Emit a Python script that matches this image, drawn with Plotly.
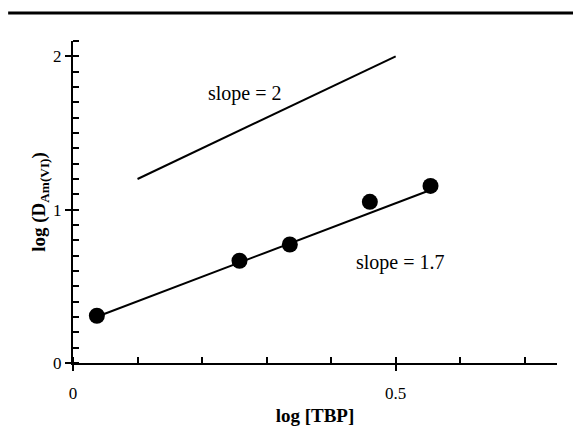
import plotly.graph_objects as go

# Measured distribution data
log_tbp = [0.037, 0.258, 0.336, 0.460, 0.554]
log_d_am = [0.308, 0.667, 0.773, 1.051, 1.155]

# Fitted line through the data (slope ~1.7)
fit_x = [0.036, 0.555]
fit_y = [0.300, 1.130]

# Reference line of slope 2
ref_x = [0.1, 0.5]
ref_y = [1.2, 2.0]

x_range = [0, 0.75]
y_range = [0, 2.1]
x_major = [0, 0.5]
y_major = [0, 1, 2]

FONT = "Times New Roman, Liberation Serif, DejaVu Serif, serif"

fig = go.Figure()

fig.add_trace(go.Scatter(x=ref_x, y=ref_y, mode="lines",
                         line=dict(color="black", width=2), hoverinfo="skip"))
fig.add_trace(go.Scatter(x=fit_x, y=fit_y, mode="lines",
                         line=dict(color="black", width=2), hoverinfo="skip"))
fig.add_trace(go.Scatter(x=log_tbp, y=log_d_am, mode="markers",
                         marker=dict(color="black", size=16, symbol="circle")))
# invisible trace so the overlay axes (inner halves of major ticks) render
fig.add_trace(go.Scatter(x=[0.3], y=[1.0], xaxis="x2", yaxis="y2", mode="markers",
                         marker=dict(opacity=0), hoverinfo="skip"))

axis_common = dict(showgrid=False, zeroline=False, showline=True,
                   linecolor="black", linewidth=2, automargin=False,
                   ticks="outside", ticklen=6, tickwidth=2, tickcolor="black",
                   tickfont=dict(family=FONT, size=17, color="black"))

fig.update_layout(
    width=573, height=436,
    margin=dict(l=73, r=16, t=41, b=73),
    paper_bgcolor="white", plot_bgcolor="white",
    showlegend=False,
    font=dict(family=FONT, color="black"),
    xaxis=dict(range=x_range, tickvals=x_major, ticktext=["0", "0.5"],
               ticklabelstandoff=8,
               minor=dict(ticks="inside", dtick=0.1, tick0=0, ticklen=6,
                          tickwidth=2, tickcolor="black", showgrid=False),
               title=dict(text="<b>log [TBP]</b>", standoff=6,
                          font=dict(family=FONT, size=19, color="black")),
               **axis_common),
    yaxis=dict(range=y_range, tickvals=y_major, ticktext=["0", "1", "2"],
               minor=dict(ticks="inside", dtick=0.1, tick0=0, ticklen=6,
                          tickwidth=2, tickcolor="black", showgrid=False),
               title=dict(text="<b>log (D<sub>Am(VI)</sub>)</b>", standoff=2,
                          font=dict(family=FONT, size=19, color="black")),
               **axis_common),
    xaxis2=dict(range=x_range, overlaying="x", side="bottom", anchor="y2",
                tickvals=x_major, ticks="inside", ticklen=6, tickwidth=2,
                tickcolor="black", showticklabels=False, showline=False,
                showgrid=False, zeroline=False, automargin=False),
    yaxis2=dict(range=y_range, overlaying="y", side="left", anchor="x2",
                tickvals=y_major, ticks="inside", ticklen=6, tickwidth=2,
                tickcolor="black", showticklabels=False, showline=False,
                showgrid=False, zeroline=False, automargin=False),
)

# Horizontal rule across the top of the figure
fig.add_shape(type="line", xref="paper", yref="paper",
              x0=-0.134, x1=1.04, y0=1.087, y1=1.087,
              line=dict(color="black", width=3))

fig.add_annotation(xref="x", yref="y", x=0.266, y=1.755, text="slope = 2",
                   showarrow=False, font=dict(family=FONT, size=20, color="black"))
fig.add_annotation(xref="x", yref="y", x=0.508, y=0.658, text="slope = 1.7",
                   showarrow=False, font=dict(family=FONT, size=20, color="black"))

fig.write_html("out.html")
